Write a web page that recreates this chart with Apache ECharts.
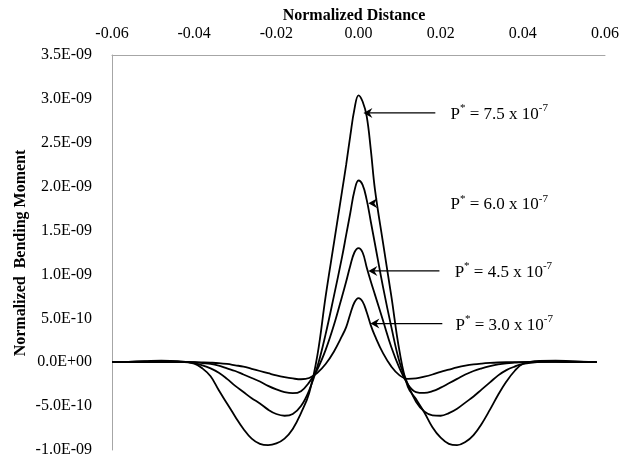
<!DOCTYPE html>
<html>
<head>
<meta charset="utf-8">
<script src="https://cdn.jsdelivr.net/npm/echarts@6/dist/echarts.min.js"></script>
<style>html,body{margin:0;padding:0;background:#fff;}#c{width:635px;height:467px;}</style>
</head>
<body>
<div id="c"></div>
<script>
// Normalized distance (x)
const xs = [-0.060,-0.056,-0.052,-0.048,-0.044,-0.040,-0.038,-0.036,-0.034,-0.032,
  -0.030,-0.028,-0.026,-0.024,-0.022,-0.020,-0.018,-0.016,-0.014,-0.012,
  -0.010,-0.008,-0.006,-0.004,-0.003,-0.002,-0.001,0,0.001,0.002,
  0.003,0.004,0.006,0.008,0.010,0.012,0.014,0.016,0.018,0.020,
  0.022,0.024,0.026,0.028,0.030,0.032,0.034,0.036,0.038,0.040,
  0.044,0.048,0.052,0.056,0.058];
// Normalized bending moment, in units of 1E-09
const p75 = [0,0.005,0.012,0.018,0.012,-0.015,-0.07,-0.16,-0.32,-0.47,
  -0.62,-0.76,-0.87,-0.93,-0.945,-0.925,-0.87,-0.76,-0.58,-0.35,
  0.08,0.75,1.35,1.95,2.25,2.58,2.88,3.04,2.97,2.8,
  2.42,1.97,1.35,0.75,0.12,-0.28,-0.42,-0.57,-0.74,-0.86,
  -0.93,-0.945,-0.91,-0.83,-0.7,-0.54,-0.37,-0.22,-0.1,-0.02,
  0.015,0.018,0.01,0.003,0];
const p60 = [0,0.003,0.008,0.012,0.006,-0.01,-0.035,-0.07,-0.12,-0.19,
  -0.27,-0.34,-0.41,-0.47,-0.54,-0.59,-0.61,-0.59,-0.5,-0.32,
  -0.05,0.32,0.75,1.2,1.45,1.7,1.95,2.07,2.02,1.85,
  1.6,1.35,0.85,0.4,0.0,-0.25,-0.45,-0.56,-0.605,-0.61,
  -0.58,-0.53,-0.46,-0.39,-0.31,-0.23,-0.15,-0.09,-0.05,-0.02,
  0.004,0.01,0.008,0.003,0];
const p45 = [0,0.002,0.005,0.006,0.004,0,-0.01,-0.02,-0.04,-0.07,
  -0.1,-0.14,-0.18,-0.22,-0.27,-0.31,-0.34,-0.353,-0.33,-0.23,
  -0.08,0.14,0.42,0.75,0.92,1.1,1.25,1.30,1.25,1.08,
  0.92,0.77,0.47,0.17,-0.07,-0.25,-0.34,-0.35,-0.33,-0.29,
  -0.24,-0.19,-0.14,-0.1,-0.07,-0.045,-0.025,-0.012,-0.005,0,
  0.003,0.005,0.004,0.002,0];
const p30 = [0,0.001,0.002,0.003,0.002,0,-0.002,-0.005,-0.01,-0.02,
  -0.035,-0.05,-0.075,-0.1,-0.125,-0.15,-0.17,-0.185,-0.194,-0.18,
  -0.12,-0.02,0.12,0.3,0.4,0.55,0.68,0.73,0.69,0.57,
  0.42,0.3,0.1,-0.05,-0.15,-0.19,-0.185,-0.165,-0.14,-0.11,
  -0.085,-0.06,-0.04,-0.025,-0.015,-0.008,-0.003,0,0.001,0.002,
  0.003,0.003,0.002,0.001,0];
const xTicks = [-0.06,-0.04,-0.02,0.00,0.02,0.04,0.06];
const yTicks = [-1.0,-0.5,0,0.5,1.0,1.5,2.0,2.5,3.0,3.5];
const yName = 'Normalized  Bending Moment';
// annotation labels
const labelValues = ['7.5','6.0','4.5','3.0'];
const labelTips = [[0.0012,2.84],[0.0024,1.81],[0.0024,1.04],[0.0029,0.44]];
const labelTails = [0.0187,null,0.0197,0.0204];
const labelTextX = [0.0224,0.0224,0.0234,0.0236];

const FONT = 'Liberation Serif, Times New Roman, serif';
const chart = echarts.init(document.getElementById('c'), null, {renderer:'canvas'});
function pairs(v){ return xs.map((x,i)=>[x, v[i]]); }
function fmtY(v){
  const r = (v*1e-9).toExponential(1);
  const m = r.match(/^(-?[\d.]+)e([+-])(\d+)$/);
  return m[1] + 'E' + m[2] + (m[3].length<2 ? '0'+m[3] : m[3]);
}
const lineSeries = [p75,p60,p45,p30].map((v,i)=>({
  type:'line', name:'P'+labelValues[i], data:pairs(v), smooth:0.4, symbol:'none',
  lineStyle:{color:'#000', width:1.8}, z:3
}));
chart.setOption({
  animation:false,
  backgroundColor:'#fff',
  title:{text:'Normalized Distance', left:349, top:3, textAlign:'center',
    textStyle:{fontFamily:FONT, fontSize:16, fontWeight:'bold', color:'#000'}},
  grid:{left:112, top:55, width:493, height:395},
  xAxis:{type:'value', position:'top', min:xTicks[0], max:xTicks[xTicks.length-1], interval:0.02,
    axisLine:{show:true, onZero:false, lineStyle:{color:'#a6a6a6', width:1}},
    axisTick:{show:false}, splitLine:{show:false},
    axisLabel:{margin:13, fontFamily:FONT, fontSize:16, color:'#000',
      formatter:v=>{const r=Math.round(v*100)/100; return r.toFixed(2);}}},
  yAxis:{type:'value', min:yTicks[0], max:yTicks[yTicks.length-1], interval:0.5,
    axisLine:{show:true, onZero:false, lineStyle:{color:'#a6a6a6', width:1}},
    axisTick:{show:false}, splitLine:{show:false},
    axisLabel:{margin:20, fontFamily:FONT, fontSize:16, color:'#000', formatter:fmtY}},
  series:lineSeries
});
// annotations
const g = [];
g.push({type:'text', x:21, y:253, rotation:Math.PI/2, z:10, style:{
  text:yName, align:'center', verticalAlign:'middle',
  font:'bold 16px ' + FONT, fill:'#000'}});
labelValues.forEach((lv,i)=>{
  const tip = chart.convertToPixel({gridIndex:0}, labelTips[i]);
  const tx = tip[0], ty = tip[1];
  if (labelTails[i] !== null){
    const tail = chart.convertToPixel({gridIndex:0}, [labelTails[i], labelTips[i][1]]);
    g.push({type:'line', shape:{x1:tx+4, y1:ty, x2:tail[0], y2:ty}, style:{stroke:'#000', lineWidth:1.2}, z:10});
  }
  g.push({type:'polygon', shape:{points:[[tx,ty],[tx+9,ty-5],[tx+6,ty],[tx+9,ty+5]]}, style:{fill:'#000'}, z:10});
  const tp = chart.convertToPixel({gridIndex:0}, [labelTextX[i], labelTips[i][1]]);
  g.push({type:'text', x:tp[0], y:ty, z:10, style:{
    text:'{a|P}{s|*}{a| = '+lv+' x 10}{s|-7}',
    verticalAlign:'middle', align:'left',
    rich:{
      a:{fontFamily:FONT, fontSize:17, fill:'#000', verticalAlign:'bottom', lineHeight:20},
      s:{fontFamily:FONT, fontSize:11, fill:'#000', verticalAlign:'top', lineHeight:20}
    }}});
});
chart.setOption({graphic:g});
</script>
</body>
</html>
